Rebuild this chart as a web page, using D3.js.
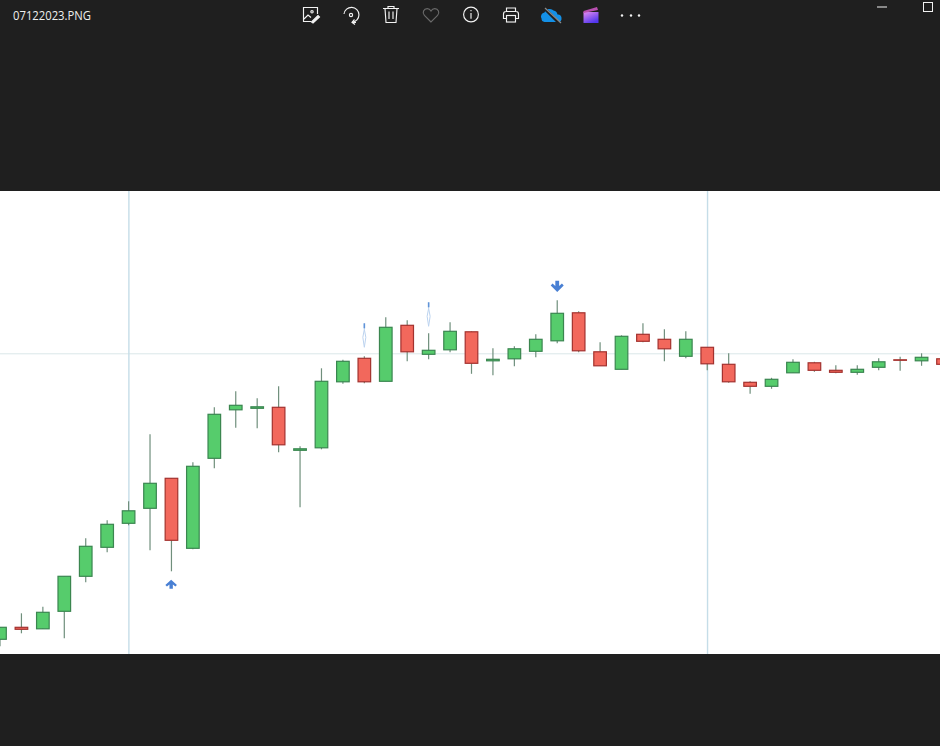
<!DOCTYPE html>
<html><head><meta charset="utf-8">
<script src="https://cdn.jsdelivr.net/npm/d3@7/dist/d3.min.js"></script>
<style>html,body{margin:0;padding:0;background:#1f1f1f;overflow:hidden}svg{display:block}</style>
</head><body><svg id="c" width="940" height="746"></svg>
<script>
// Prices in chart units (axis is hidden in the reference)
const opens  = [1.5,2.7,2.55,4.3,7.8,10.7,13.1,14.6,17.6,10.6,19.6,24.45,24.6,24.7,20.4,20.65,27.25,29.6,27.3,32.9,30,30.45,32.25,29.35,29.55,30.3,31.35,34.15,30.25,28.5,32,31.5,29.8,30.7,29,27.2,26.8,28.15,29.15,28.4,28.2,28.7,29.45,29.35,29.55];
const closes = [2.7,2.5,4.2,7.8,10.8,13,14.35,17.1,11.4,18.8,24,24.9,24.75,20.95,20.55,27.3,29.3,27.25,32.7,30.25,30.4,32.3,29.1,29.5,30.55,31.5,34.1,30.35,28.85,31.8,31.3,30.55,31.5,29.05,27.25,26.8,27.5,29.2,28.4,28.2,28.5,29.25,29.4,29.7,29];
const highs  = [2.7,4.1,4.75,7.8,11.6,13.4,15.3,22,17.6,19.2,24.7,26.3,25.6,26.8,20.8,28.6,29.45,29.8,33.7,33.4,32.1,33.2,32.3,30.6,30.8,32,35.4,34.3,31.2,31.9,33.1,32.5,32.3,30.7,30.1,27.3,27.65,29.5,29.25,28.9,28.9,29.6,29.75,30.1,29.6];
const lows   = [0.8,2.1,2.55,1.6,7.2,10.2,12.9,10.4,8.3,10.5,18.6,22.65,22.6,20.2,14.7,20.5,27.05,27.1,27.3,29.3,29.5,30.2,28.05,27.9,28.8,29.7,31.1,30.2,28.85,28.5,31.2,29.3,29.6,28.4,27.15,26.05,26.55,28.15,28.25,28.1,27.95,28.4,28.35,28.85,28.9];
const upMarks   = [{i:8, price:7}];
const downMarks = [{i:26, price:36.8}];
const faintMarks = [{i:17, price:31.9},{i:20, price:34}];
const refLevel = 30.05;
const vLines = [6, 33];
const fileName = "07122023.PNG";

const W=940,H=746,top_=191,bot=654;
const svg=d3.select("#c");
const defs=svg.append("defs");
defs.append("filter").attr("id","soft").attr("x","-5%").attr("y","-5%").attr("width","110%").attr("height","110%")
  .append("feGaussianBlur").attr("stdDeviation",0.45);

svg.append("rect").attr("width",W).attr("height",H).attr("fill","#1f1f1f");
svg.append("rect").attr("y",top_).attr("width",W).attr("height",bot-top_).attr("fill","#fff");

const x=d3.scaleLinear().domain([0,44]).range([0,943]);
const y=d3.scaleLinear().domain([0,46.3]).range([bot+.3,top_+.3]);
const bw=12.6;
const data=opens.map((o,i)=>({i,o,c:closes[i],h:highs[i],l:lows[i]}));
const GREEN="#56cc6c",RED="#f2675b",GS="#3a8650",RS="#a3332f";

defs.append("clipPath").attr("id","clip").append("rect").attr("y",top_).attr("width",W).attr("height",bot-top_);
const clipG=svg.append("g").attr("clip-path","url(#clip)");
const g=clipG.append("g").attr("filter","url(#soft)");

g.append("line").attr("x1",-10).attr("x2",W+10).attr("y1",y(refLevel)).attr("y2",y(refLevel)).attr("stroke","#dbe7e9").attr("stroke-width",1);
g.selectAll(".v").data(vLines).join("line").attr("class","v")
 .attr("x1",d=>x(d)+.3).attr("x2",d=>x(d)+.3).attr("y1",top_-5).attr("y2",bot+5)
 .attr("stroke","#c5dde8").attr("stroke-width",1.4);

const cs=g.selectAll(".cd").data(data).join("g").attr("class","cd");
cs.append("line").attr("x1",d=>x(d.i)).attr("x2",d=>x(d.i)).attr("y1",d=>y(d.h)).attr("y2",d=>y(d.l))
  .attr("stroke","#6f8f7c").attr("stroke-width",1.2);
cs.append("rect").attr("x",d=>x(d.i)-bw/2).attr("width",bw)
  .attr("y",d=>y(Math.max(d.o,d.c))).attr("height",d=>Math.abs(y(d.o)-y(d.c)))
  .attr("fill",d=>d.c>=d.o?GREEN:RED).attr("stroke",d=>d.c>=d.o?GS:RS).attr("stroke-width",1.2);

const arrow="M0,-4.5 L5.8,0.6 L4.2,2.2 L1.7,0.2 L1.7,4.5 L-1.7,4.5 L-1.7,0.2 L-4.2,2.2 L-5.8,0.6 Z";
g.selectAll(".up").data(upMarks).join("path").attr("class","up").attr("d",arrow).attr("fill","#4a80d4")
 .attr("transform",d=>`translate(${x(d.i)-.3},${y(d.price)})`);
g.selectAll(".dn").data(downMarks).join("path").attr("class","dn").attr("d",arrow).attr("fill","#4a80d4")
 .attr("transform",d=>`translate(${x(d.i)},${y(d.price)}) scale(1.12,-1.25)`);
const fm=g.selectAll(".fm").data(faintMarks).join("g").attr("class","fm").attr("transform",d=>`translate(${x(d.i)},${y(d.price)})`);
fm.append("path").attr("d","M0,-12 L0,-6 L-1.5,2 L0,12 L1.5,2 L0,-6").attr("fill","none").attr("stroke","#bcd3ef").attr("stroke-width",1);
fm.append("line").attr("y1",-12).attr("y2",-7).attr("stroke","#5f93d8").attr("stroke-width",1.6);

// Title bar
svg.append("text").attr("x",13).attr("y",20).attr("fill","#efefef")
  .attr("font-family","'Open Sans','Noto Sans',sans-serif").attr("font-size",12)
  .attr("textLength",78).attr("lengthAdjust","spacingAndGlyphs").text(fileName);

const wh="#f2f2f2";
const bar=svg.append("g").attr("fill","none").attr("stroke",wh).attr("stroke-width",1.15);
// edit image
const e=bar.append("g").attr("transform","translate(303,7)");
e.append("path").attr("d","M8,14.5 H0.5 V0.5 H14.5 V7");
e.append("path").attr("d","M1,12 L5,8 L8,10.5 M9,6 A1.2,1.2 0 1 0 9,3.6 A1.2,1.2 0 1 0 9,6");
e.append("path").attr("d","M8.5,15 L15,8.5 L16.5,10 L10,16 Z").attr("fill",wh);
// rotate
const r=bar.append("g").attr("transform","translate(351,15)");
r.append("path").attr("d","M-7,-1 A7.5,7.5 0 1 1 1,7.3");
r.append("path").attr("d","M3.5,4.5 L1,7.3 L4,9.5 M1,7.3 H5");
r.append("circle").attr("cx",0).attr("cy",0).attr("r",1.6);
// trash
const t=bar.append("g").attr("transform","translate(391,15)");
t.append("path").attr("d","M-8,-6.5 H8 M-3,-6.5 V-8.5 H3 V-6.5 M-6,-6.5 L-5,7.5 H5 L6,-6.5 M-2,-3.5 V4 M2,-3.5 V4");
// heart
bar.append("path").attr("transform","translate(431,15)").attr("stroke","#6a6a6a")
 .attr("d","M0,7 L-6.6,0.4 C-9.2,-2.4 -7.2,-6.4 -3.8,-6.4 C-2,-6.4 -0.8,-5.4 0,-4 C0.8,-5.4 2,-6.4 3.8,-6.4 C7.2,-6.4 9.2,-2.4 6.6,0.4 Z");
// info
const inf=bar.append("g").attr("transform","translate(471,14.5)");
inf.append("circle").attr("r",7.4);
inf.append("path").attr("d","M0,-1.5 V4.2 M0,-4.6 V-3.2");
// print
const p=bar.append("g").attr("transform","translate(511,15)");
p.append("path").attr("d","M-4.5,-3.5 V-7 H4.5 V-3.5 M-4.5,3.5 H-7.5 V-1 A2.5,2.5 0 0 1 -5,-3.5 H5 A2.5,2.5 0 0 1 7.5,-1 V3.5 H4.5");
p.append("rect").attr("x",-4.5).attr("y",0.5).attr("width",9).attr("height",6.5);
// cloud
const cl=svg.append("g").attr("transform","translate(551.5,15.5)");
cl.append("path").attr("fill","#1490e6").attr("d","M-10,3 A4,4 0 0 1 -7,-3 A5.5,5.5 0 0 1 2,-5 A5,5 0 0 1 6,-1 A3.5,3.5 0 0 1 10,3 A3,3 0 0 1 7,6.5 H-7 A3.5,3.5 0 0 1 -10,3 Z");
cl.append("path").attr("stroke","#1f1f1f").attr("stroke-width",3).attr("d","M-8,-8 L8,8");
cl.append("path").attr("stroke","#8a8a8a").attr("stroke-width",1.2).attr("d","M-6.5,-7.5 L9.5,7.5");
// clapper
const cp=svg.append("g").attr("transform","translate(591,15)");
const lg=defs.append("linearGradient").attr("id","clap").attr("x1",0).attr("x2",0.6).attr("y1",0).attr("y2",1);
lg.append("stop").attr("offset",0).attr("stop-color","#e58cf0");
lg.append("stop").attr("offset",1).attr("stop-color","#5236ee");
cp.append("rect").attr("x",-7.5).attr("y",-3).attr("width",15).attr("height",11).attr("fill","url(#clap)");
cp.append("path").attr("d","M-7.5,-4 L6,-8 L7,-5 L-7.5,-2 Z").attr("fill","#b84fb0");
// dots
svg.append("g").attr("fill",wh).selectAll("circle").data([622,631,639]).join("circle")
  .attr("cx",d=>d).attr("cy",15.5).attr("r",1.2);
// window controls
svg.append("line").attr("x1",877).attr("x2",887).attr("y1",7).attr("y2",7).attr("stroke",wh);
svg.append("rect").attr("x",923.5).attr("y",2.5).attr("width",9).attr("height",9).attr("fill","none").attr("stroke",wh);
</script></body></html>
